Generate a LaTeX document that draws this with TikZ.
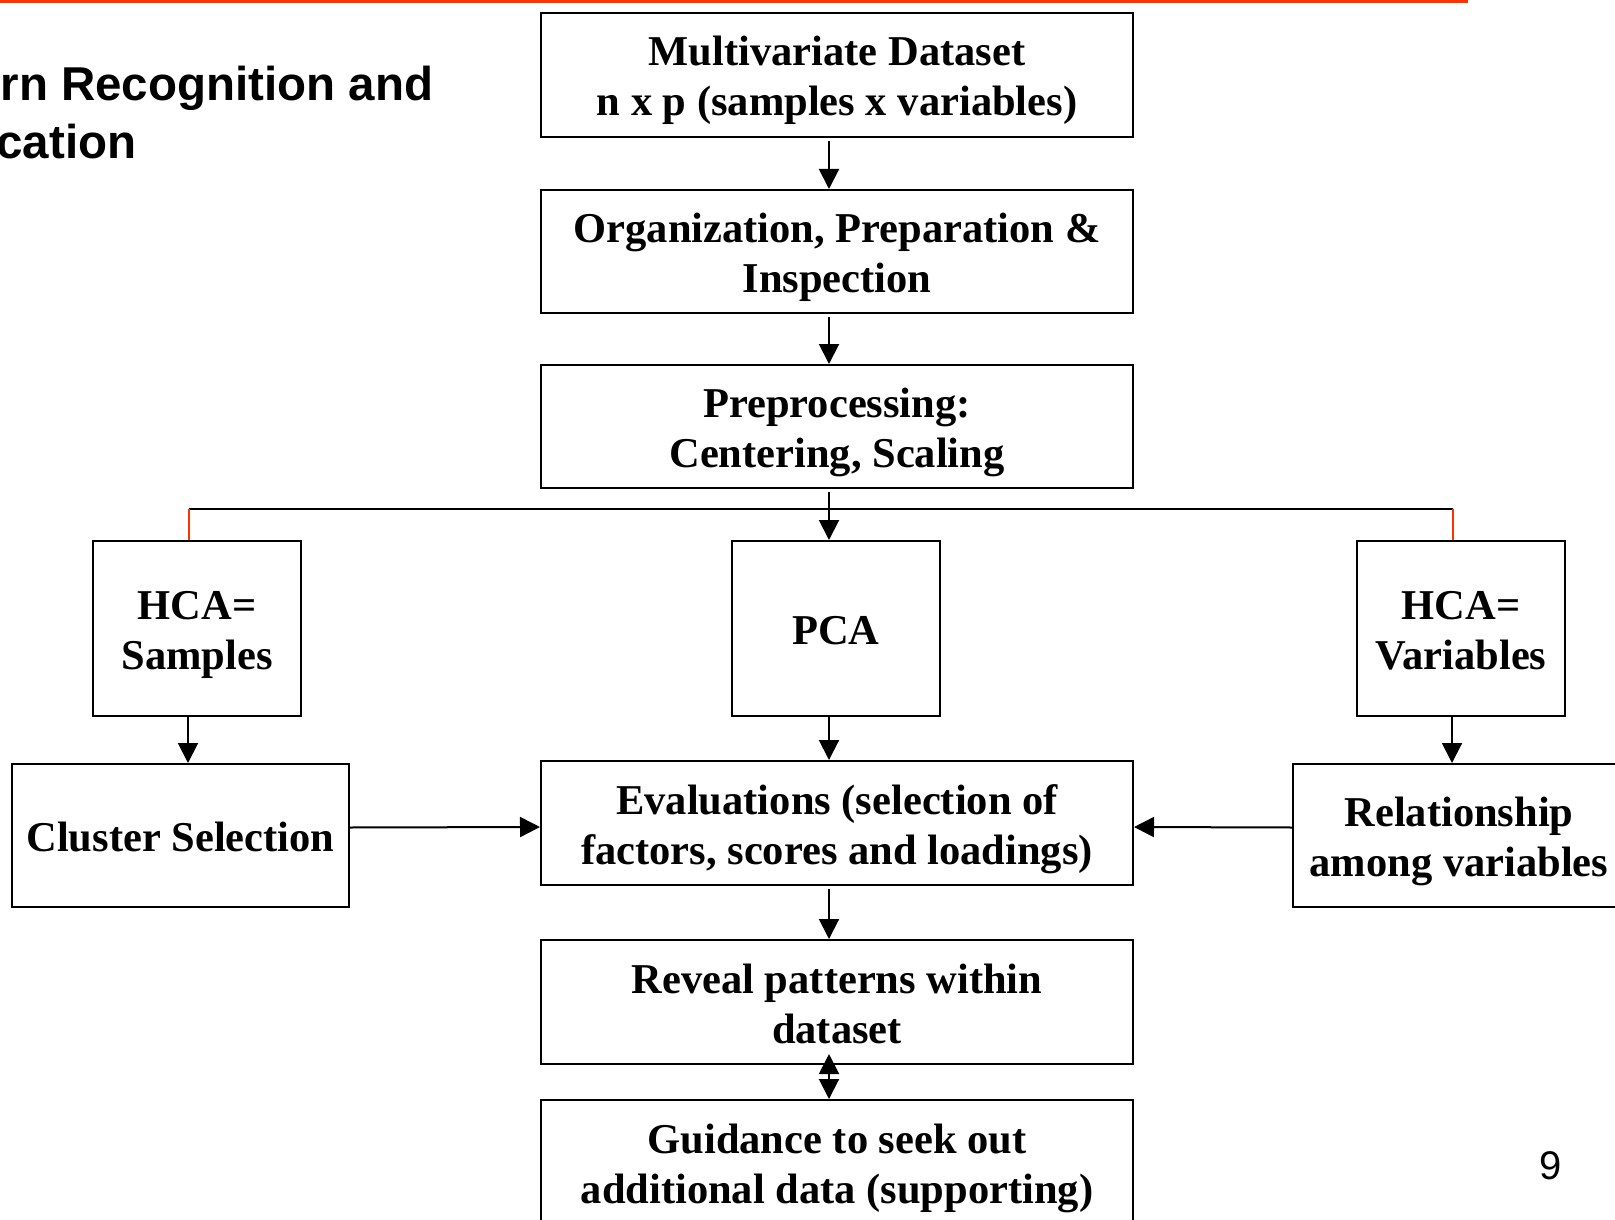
\documentclass[tikz,border=0pt]{standalone}
\usepackage{fontspec}
\setmainfont{Liberation Serif}
\newfontfamily\titlefont{Liberation Sans}
\usepackage{tikz}
\usetikzlibrary{arrows.meta,calc,positioning}
\usepackage{xcolor}
\definecolor{slidered}{RGB}{255,51,0}
% invisible struts so that every box sets its lines at the same height
\newcommand{\topgap}{\rule{0pt}{44pt}}
\newcommand{\botgap}{\rule[-12pt]{0pt}{12pt}}

\tikzset{
  box/.style={draw, line width=2pt, align=center, inner sep=0pt,
    font=\fontsize{42.5}{50}\selectfont\bfseries},
  arr/.style={line width=2pt, -{Triangle[length=20pt,width=20pt]}},
  darr/.style={line width=2pt, {Triangle[length=20pt,width=20pt]}-{Triangle[length=20pt,width=20pt]}},
}

\begin{document}
\begin{tikzpicture}[x=1pt,y=-1pt]
    \useasboundingbox (0,0) rectangle (1615,1220);
    \clip (0,0) rectangle (1615,1220);
    % slide decoration
    \draw[slidered, line width=3pt] (0,1.5) -- (1468,1.5);
    \node[anchor=base west, font=\titlefont\fontsize{47.5}{58}\selectfont\bfseries] (t1) at (-3,101) {rn Recognition and};
    \node[anchor=base west, font=\titlefont\fontsize{47.5}{58}\selectfont\bfseries] (t2) at (-7,159) {cation};
    \node[anchor=base, font=\titlefont\fontsize{40}{48}\selectfont] (pg) at (1551,1179) {9};
    % main column
    \node[box, minimum width=592pt, minimum height=124pt] (data) at (837,75) {\topgap Multivariate Dataset\\n x p (samples x variables)\botgap};
    \node[box, minimum width=592pt, minimum height=123pt] (prep) at (837,251.5) {\topgap Organization, Preparation \&\\Inspection\botgap};
    \node[box, minimum width=592pt, minimum height=123pt] (pre) at (837,426.5) {\topgap Preprocessing:\\Centering, Scaling\botgap};
    \node[box, minimum width=208pt, minimum height=175pt] (hcas) at (197,628.5) {\topgap HCA=\\Samples\botgap};
    \node[box, minimum width=208pt, minimum height=175pt] (pca) at (836,628.5) {\topgap PCA\botgap};
    \node[box, minimum width=208pt, minimum height=175pt] (hcav) at (1461,628.5) {\topgap HCA=\\Variables\botgap};
    \node[box, minimum width=337pt, minimum height=143pt] (clus) at (180.5,835.5) {\topgap Cluster Selection\botgap};
    \node[box, minimum width=592pt, minimum height=124pt] (eval) at (837,823) {\topgap Evaluations (selection of\\factors, scores and loadings)\botgap};
    \node[box, minimum width=332pt, minimum height=143pt] (rel) at (1459,835.5) {\topgap Relationship\\among variables\botgap};
    \node[box, minimum width=592pt, minimum height=124pt] (rev) at (837,1002) {\topgap Reveal patterns within\\dataset\botgap};
    \node[box, minimum width=592pt, minimum height=124pt] (guide) at (837,1162) {\topgap Guidance to seek out\\additional data (supporting)\botgap};
    % branch to the three analyses
    \coordinate (brl) at (189,509);
    \coordinate (brr) at (1453,509);
    \draw[line width=2pt] (brl) -- (brr);
    \draw[slidered, line width=2pt] (brl) -- (brl |- hcas.north);
    \draw[slidered, line width=2pt] (brr) -- (brr |- hcav.north);
    % connectors
    \draw[arr] ($(data.south)+(-8,3)$) -- ($(prep.north)+(-8,0)$);
    \draw[arr] ($(prep.south)+(-8,3)$) -- ($(pre.north)+(-8,0)$);
    \draw[arr] ($(pre.south)+(-8,3)$) -- ($(pca.north)+(-7,0)$);
    \draw[arr] ($(hcas.south -| brl)+(-1,0)$) -- ($(clus.north -| brl)+(-1,0)$);
    \draw[arr] ($(hcav.south -| brr)+(-1,0)$) -- ($(rel.north -| brr)+(-1,0)$);
    \draw[arr] ($(pca.south)+(-7,0)$) -- ($(eval.north)+(-8,0)$);
    \draw[arr] ($(clus.east)+(0,-8)$) -- ($(eval.west)+(0,4)$);
    \draw[arr] ($(rel.west)+(0,-8)$) -- ($(eval.east)+(0,4)$);
    \draw[arr] ($(eval.south)+(-8,3)$) -- ($(rev.north)+(-8,0)$);
    \draw[darr] ($(rev.south)+(-8,-11)$) -- ($(guide.north)+(-8,0)$);
\end{tikzpicture}
\end{document}
